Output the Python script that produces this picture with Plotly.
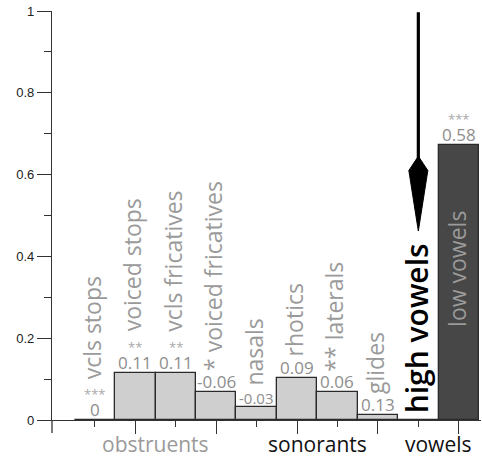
import plotly.graph_objects as go

categories = ["vcls stops", "voiced stops", "vcls fricatives", "voiced fricatives",
              "nasals", "rhotics", "laterals", "glides", "high vowels", "low vowels"]
heights = [0, 0.116, 0.116, 0.069, 0.033, 0.103, 0.068, 0.012, 0, 0.672]
value_labels = ["0", "0.11", "0.11", "-0.06", "-0.03", "0.09", "0.06", "0.13", "", "0.58"]
stars = ["***", "**", "**", "*", "", "", "**", "", "", "***"]
stars_in_name = [False, False, False, True, False, False, True, False, False, False]
groups = ["obstruents", "sonorants", "vowels"]
group_members = [[0, 1, 2, 3], [4, 5, 6, 7], [8, 9]]
y_ticks = [0, 0.2, 0.4, 0.6, 0.8, 1]

FONT = "Open Sans"
GRAY = "#9a9a9a"
DARK = "#333333"

x = list(range(len(categories)))
fill = ["#cfcfcf"] * 9 + ["#474747"]

fig = go.Figure()
fig.add_trace(go.Bar(
    x=x, y=heights, width=1.0,
    marker=dict(color=fill, line=dict(color="#2a2a2a", width=1.3)),
    showlegend=False, hoverinfo="skip",
))

ann = []
for i, name in enumerate(categories):
    h = heights[i]
    if value_labels[i]:
        ann.append(dict(x=i, y=h, xref="x", yref="y", text=value_labels[i],
                        showarrow=False, xanchor="center", yanchor="bottom", yshift=-3,
                        font=dict(family=FONT, size=15 if i == 4 else 17, color="#8e8e8e")))
    horiz_star = stars[i] and not stars_in_name[i]
    if horiz_star:
        ann.append(dict(x=i, y=h, xref="x", yref="y", text=stars[i],
                        showarrow=False, xanchor="center", yanchor="bottom", yshift=15,
                        font=dict(family=FONT, size=13, color="#a8a8a8")))
    if i < 8:
        label = (stars[i] + " " + name) if stars_in_name[i] else name
        ann.append(dict(x=i, y=h, xref="x", yref="y", text=label, textangle=-90,
                        showarrow=False, xanchor="center", yanchor="bottom",
                        yshift=39 if horiz_star else 19, xshift=-3,
                        font=dict(family=FONT, size=23, color=GRAY)))
    elif i == 8:
        ann.append(dict(x=i, y=h, xref="x", yref="y", text=name, textangle=-90,
                        showarrow=False, xanchor="center", yanchor="bottom", yshift=5, xshift=-2,
                        font=dict(family=FONT, size=30, color="#000000", weight=600)))
    else:
        ann.append(dict(x=i, y=h, xref="x", yref="y", text=name, textangle=-90,
                        showarrow=False, xanchor="center", yanchor="top", yshift=-64, xshift=-2,
                        font=dict(family=FONT, size=23, color=GRAY)))

gcolors = [GRAY, "#111111", "#111111"]
for g, members, c in zip(groups, group_members, gcolors):
    cx = sum(members) / len(members)
    ann.append(dict(x=cx, y=0, xref="x", yref="paper", text=g, showarrow=False,
                    xanchor="center", yanchor="top", yshift=-8,
                    font=dict(family=FONT, size=21, color=c)))

# arrow above the high vowels position
ax_i = categories.index("high vowels")
shapes = [
    dict(type="line", xref="x", yref="y", x0=ax_i, x1=ax_i, y0=0.997, y1=0.6,
         line=dict(color="#000000", width=3.2)),
    dict(type="path", xref="x", yref="y",
         path=f"M {ax_i-0.235},0.61 L {ax_i},0.645 L {ax_i+0.235},0.61 L {ax_i},0.462 Z",
         fillcolor="#000000", line=dict(color="#000000", width=1)),
    dict(type="line", xref="paper", yref="paper", x0=0, x1=0, y0=0, y1=-13 / 409,
         line=dict(color=DARK, width=1.3)),
]

fig.update_layout(
    width=482, height=458,
    margin=dict(l=52, r=1, t=11, b=38, autoexpand=False),
    paper_bgcolor="white", plot_bgcolor="white",
    annotations=ann, shapes=shapes,
    bargap=0,
    xaxis=dict(range=[-1.06, 9.55], showgrid=False, zeroline=False, showline=True,
               linecolor=DARK, linewidth=1.3, ticks="outside", ticklen=6, tickwidth=1.3,
               tickcolor=DARK, tickvals=[0, 2, 4, 6, 8], showticklabels=False, fixedrange=True),
    xaxis2=dict(range=[-1.06, 9.55], overlaying="x", side="bottom", anchor="y",
                showgrid=False, zeroline=False, showline=False,
                ticks="outside", ticklen=13, tickwidth=1.3, tickcolor=DARK,
                tickvals=[1, 3, 5, 7, 9], showticklabels=False),
    yaxis=dict(range=[0, 1], showgrid=False, zeroline=False, showline=True,
               linecolor=DARK, linewidth=1.3, ticks="outside", ticklen=14, tickwidth=1.3,
               tickcolor=DARK, tickvals=y_ticks, ticktext=[f"{v:g}" for v in y_ticks],
               tickfont=dict(family="Liberation Sans", size=13, color="#222222"),
               minor=dict(ticks="outside", ticklen=7, tickwidth=1.3, tickcolor=DARK,
                          tickvals=[0.1, 0.3, 0.5, 0.7, 0.9])),
)
fig.add_trace(go.Scatter(x=[None], y=[None], xaxis="x2", showlegend=False, hoverinfo="skip"))

fig.write_html("out.html", config={"displayModeBar": False},
               post_script="document.body.style.margin='0px';document.body.style.overflow='hidden';")
